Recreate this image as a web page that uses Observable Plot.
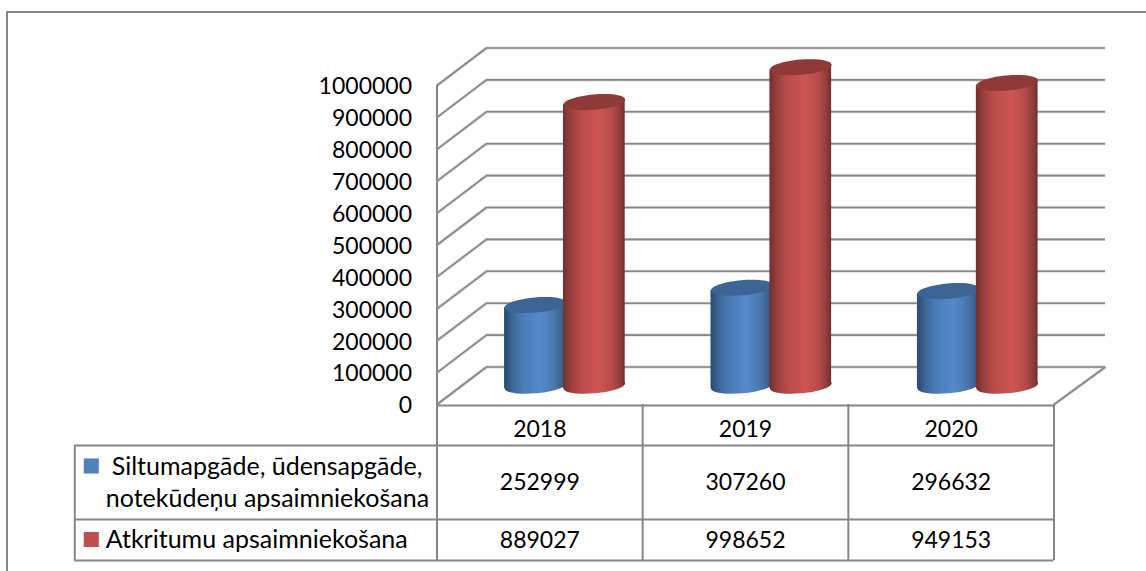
<!DOCTYPE html>
<html>
<head>
<meta charset="utf-8">
<script src="https://cdn.jsdelivr.net/npm/d3@7"></script>
<script src="https://cdn.jsdelivr.net/npm/@observablehq/plot@0.6"></script>
<style>
html,body{margin:0;padding:0;background:#fff;overflow:hidden;width:1146px;height:571px}
#frame{position:absolute;left:6px;top:11px;width:1140px;height:560px;border-left:2px solid #868686;border-top:2px solid #868686;box-sizing:border-box;pointer-events:none}
</style>
</head>
<body>
<div id="chart"></div>
<div id="frame"></div>
<script>
const years = ["2018", "2019", "2020"];
const heating = [252999, 307260, 296632];
const waste = [889027, 998652, 949153];
const heatingLabelLines = ["Siltumapgāde, ūdensapgāde,", "notekūdeņu apsaimniekošana"];
const wasteLabel = "Atkritumu apsaimniekošana";
const yTicks = [0, 100000, 200000, 300000, 400000, 500000, 600000, 700000, 800000, 900000, 1000000];

const rows = years.map((year, i) => ({i, year, heating: heating[i], waste: waste[i]}));

// plot geometry
const unit = 205.83, pxPerValue = 319 / 1000000;
const depthX = 49.5 / unit, depthRight = 51.5 / unit, depthY = 37.5 / pxPerValue;
const below = px => -px / pxPerValue;            // table rows sit below the zero line
const rowEdges = [below(1), below(41), below(115), below(156)];
const gridColor = "#868686", gridHalo = "#d4d4d4", fontFamily = "Lato, Carlito, sans-serif", fontSize = 23;

// a flattened, slightly tilted disc for the cylinder caps
const tiltDeg = 5, capR = 31, capRy = 7.6;
const disc = {
  draw(ctx, size) {
    const rx = Math.sqrt(size / Math.PI), ry = rx * capRy / capR, a = -tiltDeg * Math.PI / 180, k = 0.5523;
    const p = (x, y) => [x * Math.cos(a) - y * Math.sin(a), x * Math.sin(a) + y * Math.cos(a)];
    ctx.moveTo(...p(rx, 0));
    ctx.bezierCurveTo(...p(rx, k * ry), ...p(k * rx, ry), ...p(0, ry));
    ctx.bezierCurveTo(...p(-k * rx, ry), ...p(-rx, k * ry), ...p(-rx, 0));
    ctx.bezierCurveTo(...p(-rx, -k * ry), ...p(-k * rx, -ry), ...p(0, -ry));
    ctx.bezierCurveTo(...p(k * rx, -ry), ...p(rx, -k * ry), ...p(rx, 0));
    ctx.closePath();
  }
};

const gradient = (id, stops) => `<linearGradient id="${id}" x1="0" x2="1" y1="0" y2="0">` +
  stops.map(([o, c]) => `<stop offset="${o}" stop-color="${c}"/>`).join("") + `</linearGradient>`;
const defs = () => {
  const g = document.createElementNS("http://www.w3.org/2000/svg", "g");
  g.innerHTML = "<defs>" +
    gradient("cylBlue", [[0, "#2a4a70"], [0.12, "#3b6494"], [0.3, "#4a7cb8"], [0.58, "#5489cc"], [0.8, "#4a78ad"], [0.93, "#3c6390"], [1, "#31527a"]]) +
    gradient("cylRed", [[0, "#70302f"], [0.12, "#983f3e"], [0.3, "#bb4c4b"], [0.58, "#ce5553"], [0.8, "#b54a48"], [0.93, "#8f3c3a"], [1, "#6d2e2d"]]) +
    "</defs>";
  return g;
};

const spacing = 206.6 / unit;
const halfW = capR * Math.cos(tiltDeg * Math.PI / 180) / unit;
const tiltV = capR * Math.sin(tiltDeg * Math.PI / 180) / pxPerValue;
const cylinder = (field, center, body, cap) => {
  const cx = d => d.i * spacing + center;
  const outline = rows.flatMap(d => [
    {i: d.i, x: cx(d) - halfW, lo: -tiltV, hi: d[field] - tiltV},
    {i: d.i, x: cx(d) + halfW, lo: tiltV, hi: d[field] + tiltV}
  ]);
  return [
    Plot.dot(rows, {x: cx, y: () => 0, r: capR, symbol: disc, fill: `url(#${body})`, stroke: "none", dy: -18.75}),
    Plot.area(outline, {x1: "x", y1: "lo", y2: "hi", z: "i", fill: `url(#${body})`, dy: -18.75}),
    Plot.dot(rows, {x: cx, y: d => d[field], r: capR, symbol: disc, fill: cap, stroke: "none", dy: -18.75})
  ];
};

const tableText = {fontFamily, fontSize, fill: "black"};
const labelText = {fontFamily, fontSize: 25, fill: "black", textAnchor: "start"};
const gridWall = (stroke, strokeWidth) => [
  Plot.ruleY(yTicks, {x1: depthX, x2: 3 + depthRight, y: d => d + depthY, stroke, strokeWidth}),
  Plot.link(yTicks, {x1: 0, x2: depthX, y1: d => d, y2: d => d + depthY, stroke, strokeWidth}),
  Plot.link([0], {x1: 3, x2: 3 + depthRight, y1: 0, y2: depthY, stroke, strokeWidth})
];

const plot = Plot.plot({
  width: 1146, height: 571,
  marginLeft: 436.5, marginRight: 92.5, marginTop: 85, marginBottom: 167,
  style: {background: "transparent", fontFamily},
  x: {type: "linear", domain: [0, 3], axis: null},
  y: {type: "linear", domain: [0, 1000000], axis: null},
  marks: [
    defs,
    // back wall and side wall
    ...gridWall(gridHalo, 3),
    ...gridWall(gridColor, 1.6),
    // value labels
    Plot.text(yTicks, {x: () => 0, y: d => d, text: d => String(d), textAnchor: "end", dx: -25, dy: 1.5, ...tableText}),
    // cylinders
    ...cylinder("heating", 0.4786, "cylBlue", "#3c6595"),
    ...cylinder("waste", 0.765, "cylRed", "#8f3a38"),
    // data table grid
    Plot.ruleX([0, 1, 2, 3], {y1: d => 1000000 * (d === 0), y2: rowEdges[3], stroke: gridColor, strokeWidth: 2}),
    Plot.ruleY(rowEdges, {x1: (d, i) => i === 0 ? 0 : -362.5 / unit, x2: 3, y: d => d, stroke: gridColor, strokeWidth: 2}),
    Plot.ruleX([-362.5 / unit], {y1: rowEdges[1], y2: rowEdges[3], stroke: gridColor, strokeWidth: 2}),
    // data table contents
    Plot.text(rows, {x: d => d.i + 0.5, y: () => below(25.5), text: "year", ...tableText}),
    Plot.text(rows, {x: d => d.i + 0.5, y: () => below(78), text: d => String(d.heating), ...tableText}),
    Plot.text(rows, {x: d => d.i + 0.5, y: () => below(136), text: d => String(d.waste), ...tableText}),
    // row headers with swatches
    Plot.dot([0], {x: () => -346 / unit, y: () => below(61.5), r: 8.5, symbol: "square", fill: "#4f81bd", stroke: "none"}),
    Plot.dot([0], {x: () => -346 / unit, y: () => below(135), r: 8.5, symbol: "square", fill: "#c0504d", stroke: "none"}),
    Plot.text([heatingLabelLines[0]], {x: () => -325.5 / unit, y: () => below(62.5), text: d => d, ...labelText}),
    Plot.text([heatingLabelLines[1]], {x: () => -331.5 / unit, y: () => below(94), text: d => d, ...labelText}),
    Plot.text([wasteLabel], {x: () => -331.5 / unit, y: () => below(135), text: d => d, ...labelText})
  ]
});
document.getElementById("chart").appendChild(plot);
</script>
</body>
</html>
